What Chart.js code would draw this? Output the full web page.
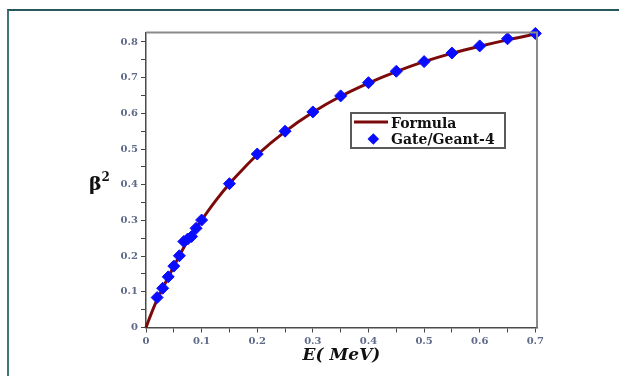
<!DOCTYPE html>
<html>
<head>
<meta charset="utf-8">
<script src="https://cdn.jsdelivr.net/npm/chart.js@4.4.1/dist/chart.umd.min.js"></script>
<style>
  html, body { margin: 0; padding: 0; background: #fff; }
  #wrap { position: relative; width: 619px; height: 376px; overflow: hidden; }
  #frame { position: absolute; left: 7px; top: 9px; right: -10px; bottom: -10px;
           border-top: 2px solid #24585c; border-left: 2px solid #3d7679; }
  canvas { position: absolute; left: 0; top: 0; }
</style>
</head>
<body>
<div id="wrap"><div id="frame"></div><canvas id="chart" width="619" height="376"></canvas></div>
<script>
'use strict';
// beta^2 vs energia elektronu: krzywa ze wzoru + punkty z Gate/Geant-4

// ---------- dane ----------
const formulaE  = [0, 0.005, 0.01, 0.02, 0.03, 0.04, 0.05, 0.06, 0.07, 0.08, 0.09, 0.1,
                   0.125, 0.15, 0.175, 0.2, 0.25, 0.3, 0.35, 0.4, 0.45, 0.5, 0.55, 0.6, 0.65, 0.7];
const formulaB2 = [0, 0.021, 0.041, 0.078, 0.110, 0.141, 0.171, 0.201, 0.230, 0.254, 0.278, 0.301,
                   0.355, 0.403, 0.445, 0.484, 0.549, 0.603, 0.648, 0.685, 0.717, 0.745, 0.768, 0.788, 0.806, 0.822];

const gateE  = [0.02, 0.03, 0.04, 0.05, 0.06, 0.068, 0.075, 0.082, 0.09, 0.1,
                0.15, 0.2, 0.25, 0.3, 0.35, 0.4, 0.45, 0.5, 0.55, 0.6, 0.65, 0.7];
const gateB2 = [0.084, 0.110, 0.142, 0.172, 0.201, 0.241, 0.248, 0.255, 0.278, 0.301,
                0.403, 0.486, 0.550, 0.604, 0.649, 0.686, 0.718, 0.745, 0.769, 0.789, 0.809, 0.824];

const xTicks = [0, 0.05, 0.1, 0.15, 0.2, 0.25, 0.3, 0.35, 0.4, 0.45, 0.5, 0.55, 0.6, 0.65, 0.7];
const yTicks = [0, 0.05, 0.1, 0.15, 0.2, 0.25, 0.3, 0.35, 0.4, 0.45, 0.5, 0.55, 0.6, 0.65, 0.7, 0.75, 0.8];

const LINE_COL = '#7c0a0a';
const DOT_COL = '#0a0cff';
const TICK_COL = '#5f6a88';
const SERIF = '"DejaVu Serif", "Liberation Serif", serif';

function pts(xs, ys) { return xs.map((x, i) => ({ x, y: ys[i] })); }
function tickLbl(v, i) { return i % 2 ? '' : (v === 0 ? '0' : v.toFixed(1)); }

// ---------- ramka, legenda, beta^2 ----------
const decor = {
  id: 'decor',
  afterDraw(chart) {
    const { ctx } = chart;
    const a = chart.chartArea;
    ctx.save();
    // górna i prawa krawędź ramki
    ctx.strokeStyle = '#8a8a8a'; ctx.lineWidth = 2;
    ctx.beginPath();
    ctx.moveTo(a.left, a.top); ctx.lineTo(a.right, a.top); ctx.lineTo(a.right, a.bottom);
    ctx.stroke();
    // legenda
    ctx.fillStyle = '#fff';
    ctx.fillRect(351, 113, 154, 35);
    ctx.strokeStyle = '#5a5a5a'; ctx.lineWidth = 2;
    ctx.strokeRect(351, 113, 154, 35);
    ctx.strokeStyle = LINE_COL; ctx.lineWidth = 3;
    ctx.beginPath(); ctx.moveTo(354, 122); ctx.lineTo(388, 122); ctx.stroke();
    ctx.fillStyle = DOT_COL;
    ctx.beginPath();
    ctx.moveTo(367.5, 139); ctx.lineTo(373.3, 133.2); ctx.lineTo(379.1, 139); ctx.lineTo(373.3, 144.8);
    ctx.closePath(); ctx.fill();
    ctx.fillStyle = '#111';
    ctx.font = 'bold 14px ' + SERIF;
    ctx.textBaseline = 'alphabetic';
    ctx.fillText('Formula', 391, 127.5);
    ctx.fillText('Gate/Geant-4', 391, 144);
    // etykieta osi Y
    ctx.font = 'bold 19px ' + SERIF;
    ctx.fillText('β', 89, 190);
    ctx.font = 'bold 12px ' + SERIF;
    ctx.fillText('2', 101.5, 181);
    ctx.restore();
  }
};

const axisBase = {
  type: 'linear',
  grid: { display: true, drawOnChartArea: false, drawTicks: true, tickLength: 5, color: '#444', lineWidth: 1 },
  border: { display: true, color: '#4a4a4a', width: 1.5 },
  ticks: { color: TICK_COL, font: { family: SERIF, size: 10, weight: 'bold' }, padding: 3, autoSkip: false,
           maxRotation: 0, callback: tickLbl },
};

new Chart(document.getElementById('chart'), {
  type: 'scatter',
  data: {
    datasets: [
      { label: 'Gate/Geant-4', data: pts(gateE, gateB2), showLine: false, pointStyle: 'rectRot',
        pointRadius: 6, pointHoverRadius: 6, backgroundColor: DOT_COL, borderColor: DOT_COL,
        borderWidth: 1, clip: false },
      { label: 'Formula', data: pts(formulaE, formulaB2), showLine: true, pointRadius: 0,
        borderColor: LINE_COL, borderWidth: 3, cubicInterpolationMode: 'monotone', clip: false },
    ],
  },
  options: {
    responsive: false, animation: false, devicePixelRatio: 1,
    layout: { padding: { left: 0, top: 32.5, right: 82, bottom: 0 } },
    plugins: { legend: { display: false }, tooltip: { enabled: false } },
    scales: {
      x: { ...axisBase, min: 0, max: 0.703,
        afterBuildTicks: s => { s.ticks = xTicks.map(v => ({ value: v })); },
        afterFit: s => { s.height = 48.5; },
        title: { display: true, text: 'E( MeV)', color: '#111',
          font: { family: SERIF, size: 17, weight: 'bold', style: 'italic' }, padding: { top: 0, bottom: 10 } } },
      y: { ...axisBase, min: 0, max: 0.8266,
        afterBuildTicks: s => { s.ticks = yTicks.map(v => ({ value: v })); },
        afterFit: s => { s.width = 146; } },
    },
  },
  plugins: [decor],
});
</script>
</body>
</html>
